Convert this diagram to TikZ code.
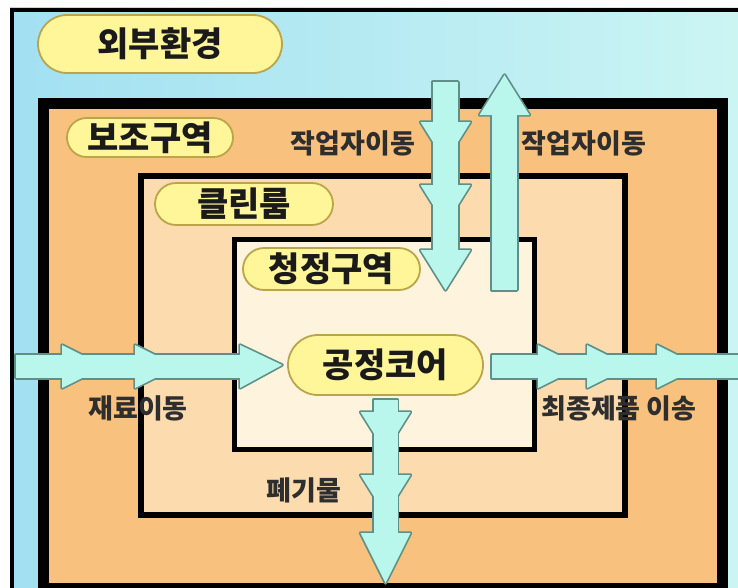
\documentclass[tikz,border=0pt]{standalone}
\usepackage{fontspec}
\setmainfont{Noto Sans CJK KR}
\definecolor{skyL}{HTML}{A2E0F2}
\definecolor{skyR}{HTML}{CBF5F3}
\definecolor{zoneA}{HTML}{F8C17D}
\definecolor{zoneB}{HTML}{FCDCAE}
\definecolor{zoneC}{HTML}{FEF4DE}
\definecolor{pillfill}{HTML}{FFF599}
\definecolor{pillborder}{HTML}{BBA54A}
\definecolor{pilltext}{HTML}{1A1A1A}
\definecolor{arrfill}{HTML}{B9F6EC}
\definecolor{arrborder}{HTML}{5F8F86}
\definecolor{lbltext}{HTML}{2E2E2E}
\newcommand\arrowset[1]{%
  % material in (left, horizontal)
  \path[#1] (16,355) rectangle (240,378);
  \foreach \s in {62,135} \path[#1] (\s,345) -- (\s+43,366.5) -- (\s,388) -- cycle;
  \path[#1] (240,345) -- (matTip) -- (240,388) -- cycle;
  % product out (right, horizontal)
  \path[#1] (prodStart) rectangle (742,378);
  \foreach \s in {538,587,657} \path[#1] (\s,345) -- (\s+43,366.5) -- (\s,388) -- cycle;
  % workers in (down)
  \path[#1] (workInStart) rectangle (458,250);
  \foreach \s in {122,185} \path[#1] (420.5,\s) -- (470.5,\s) -- (445.5,\s+40) -- cycle;
  \path[#1] (420.5,250) -- (470.5,250) -- (workInTip) -- cycle;
  % workers out (up)
  \path[#1] (492,115) rectangle (workOutStart);
  \path[#1] (479.5,115) -- (529.5,115) -- (workOutTip) -- cycle;
  % waste (down)
  \path[#1] (wasteStart) rectangle (397.5,533);
  \foreach \s in {412,475} \path[#1] (360.5,\s) -- (410.5,\s) -- (385.5,\s+40) -- cycle;
  \path[#1] (360.5,533) -- (410.5,533) -- (wasteTip) -- cycle;
}
\begin{document}
\begin{tikzpicture}[x=1pt,y=-1pt,
  pill/.style={draw=pillborder,line width=1.8pt,fill=pillfill,inner sep=0pt,
    font=\fontsize{34}{38}\selectfont\bfseries,text=pilltext},
  lbl/.style={inner sep=0pt,font=\fontsize{27}{30}\selectfont\bfseries,text=lbltext},
  zonebox/.style={draw=black,line join=miter}]
\useasboundingbox (0,0) rectangle (738,587);
% page and sky
\fill[white] (0,0) rectangle (738,587);
\shade[left color=skyL,right color=skyR] (10,7) rectangle (738,587);
\draw[black,line width=4pt] (12,590) -- (12,9.5) -- (740,9.5);
% zones
\draw[zonebox,fill=zoneA,line width=11pt] (43,103.5) rectangle (722,588);
\draw[zonebox,fill=zoneB,line width=6pt] (141,176) rectangle (625,515);
\draw[zonebox,fill=zoneC,line width=5pt] (234.5,239.5) rectangle (534,449.5);
% zone labels
\node[pill,minimum width=244pt,minimum height=58pt,rounded corners=29pt] (outside) at (160,44) {외부환경};
\node[pill,minimum width=166pt,minimum height=39pt,rounded corners=19.5pt] (support) at (150,137.5) {보조구역};
\node[pill,minimum width=178pt,minimum height=42pt,rounded corners=21pt] (clean) at (244,204) {클린룸};
\node[pill,minimum width=177pt,minimum height=42pt,rounded corners=21pt] (pure) at (331.5,269) {청정구역};
\node[pill,minimum width=195pt,minimum height=60pt,rounded corners=30pt] (core) at (385.5,365) {공정코어};
% arrow end points
\coordinate (matTip) at ([xshift=-5pt]core.west);
\coordinate (prodStart) at (492,355);
\coordinate (workInStart) at (433,82);
\coordinate (workInTip) at (445.5,290);
\coordinate (workOutStart) at (517,290);
\coordinate (workOutTip) at (504.5,75);
\coordinate (wasteStart) at (373.5,400);
\coordinate (wasteTip) at (385.5,583);
% arrows: outline pass then fill pass (merged outline)
\arrowset{draw=arrborder,line width=3.4pt,line join=round}
\arrowset{fill=arrfill}
% flow labels
\node[lbl] (lblWorkIn) at (353,143) {작업자이동};
\node[lbl] (lblWorkOut) at (584,143) {작업자이동};
\node[lbl] (lblMat) at (138,408) {재료이동};
\node[lbl] (lblWaste) at (304,490) {폐기물};
\node[lbl] (lblProd) at (619,408) {최종제품 이송};
\end{tikzpicture}
\end{document}
